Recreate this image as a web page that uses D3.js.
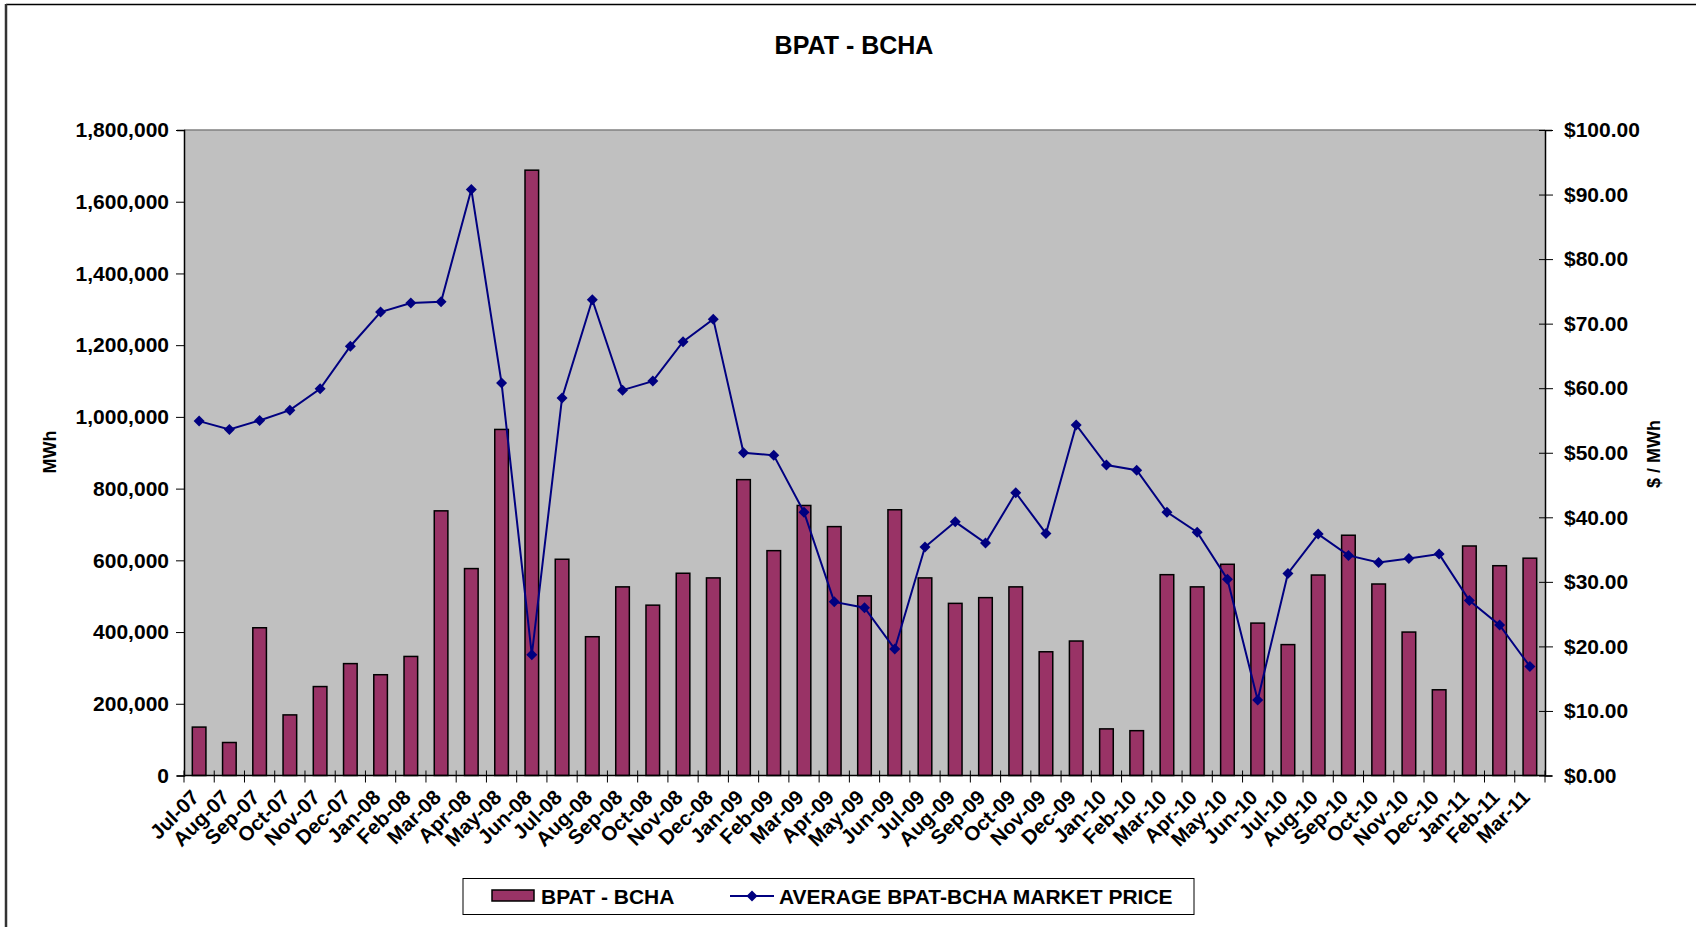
<!DOCTYPE html>
<html>
<head>
<meta charset="utf-8">
<script src="https://cdn.jsdelivr.net/npm/d3@7"></script>
<style>
  html, body { margin: 0; padding: 0; background: #fff; }
  svg { display: block; }
  text { font-family: "Liberation Sans", Arial, sans-serif; font-weight: bold; fill: #000; }
</style>
</head>
<body>
<svg id="chart" width="1696" height="927"></svg>
<script>
const months = ["Jul-07","Aug-07","Sep-07","Oct-07","Nov-07","Dec-07","Jan-08","Feb-08","Mar-08","Apr-08","May-08","Jun-08",
  "Jul-08","Aug-08","Sep-08","Oct-08","Nov-08","Dec-08","Jan-09","Feb-09","Mar-09","Apr-09","May-09","Jun-09",
  "Jul-09","Aug-09","Sep-09","Oct-09","Nov-09","Dec-09","Jan-10","Feb-10","Mar-10","Apr-10","May-10","Jun-10",
  "Jul-10","Aug-10","Sep-10","Oct-10","Nov-10","Dec-10","Jan-11","Feb-11","Mar-11"];

const volume = [135000, 92000, 412000, 169000, 248000, 312000, 281000, 332000, 738000, 577000, 965000, 1688000,
  603000, 387000, 526000, 475000, 564000, 551000, 825000, 627000, 753000, 694000, 501000, 741000,
  551000, 480000, 496000, 526000, 345000, 375000, 130000, 125000, 560000, 526000, 589000, 425000,
  365000, 559000, 670000, 534000, 400000, 239000, 640000, 585000, 606000];

const price = [54.9, 53.6, 55.0, 56.6, 59.9, 66.5, 71.8, 73.2, 73.4, 90.8, 60.8, 18.7,
  58.5, 73.7, 59.7, 61.1, 67.2, 70.7, 50.0, 49.6, 40.8, 26.9, 26.0, 19.6,
  35.4, 39.3, 36.0, 43.8, 37.5, 54.3, 48.1, 47.3, 40.8, 37.7, 30.4, 11.7,
  31.3, 37.4, 34.1, 33.0, 33.6, 34.3, 27.1, 23.3, 16.9];

const leftTicks = [0, 200000, 400000, 600000, 800000, 1000000, 1200000, 1400000, 1600000, 1800000];
const rightTicks = [0, 10, 20, 30, 40, 50, 60, 70, 80, 90, 100];

const title = "BPAT - BCHA";
const leftTitle = "MWh";
const rightTitle = "$ / MWh";
const seriesNames = ["BPAT - BCHA", "AVERAGE BPAT-BCHA MARKET PRICE"];

const svg = d3.select("#chart");
const W = 1696, H = 927;
const plot = { left: 184, right: 1545, top: 130, bottom: 775.5 };

// outer frame (top and left)
svg.append("line").attr("x1", 6).attr("x2", W).attr("y1", 4.5).attr("y2", 4.5)
  .attr("stroke", "#000").attr("stroke-width", 1.5);
svg.append("line").attr("x1", 6).attr("x2", 6).attr("y1", 4).attr("y2", H)
  .attr("stroke", "#333").attr("stroke-width", 2.5);

const x = d3.scaleBand().domain(months).range([plot.left, plot.right]).paddingInner(0).paddingOuter(0);
const yL = d3.scaleLinear().domain([0, 1800000]).range([plot.bottom, plot.top]);
const yR = d3.scaleLinear().domain([0, 100]).range([plot.bottom, plot.top]);

// plot background
svg.append("rect").attr("x", plot.left).attr("y", plot.top)
  .attr("width", plot.right - plot.left).attr("height", plot.bottom - plot.top)
  .attr("fill", "#c0c0c0");
svg.append("line").attr("x1", plot.left).attr("x2", plot.right).attr("y1", plot.top).attr("y2", plot.top)
  .attr("stroke", "#808080").attr("stroke-width", 1.5);

// title
svg.append("text").attr("x", 854).attr("y", 54).attr("text-anchor", "middle")
  .style("font-size", "25px").text(title);

// bars
const barW = x.bandwidth() * 0.45;
svg.append("g").selectAll("rect").data(volume).join("rect")
  .attr("x", (d, i) => x(months[i]) + (x.bandwidth() - barW) / 2)
  .attr("y", d => yL(d))
  .attr("width", barW)
  .attr("height", d => yL(0) - yL(d))
  .attr("fill", "#993366")
  .attr("stroke", "#000")
  .attr("stroke-width", 1.5);

// line
const line = d3.line().x((d, i) => x(months[i]) + x.bandwidth() / 2).y(d => yR(d));
svg.append("path").datum(price).attr("d", line)
  .attr("fill", "none").attr("stroke", "#000080").attr("stroke-width", 2);
const diamond = "M0,-5.5L5.5,0L0,5.5L-5.5,0Z";
svg.append("g").selectAll("path").data(price).join("path")
  .attr("d", diamond)
  .attr("transform", (d, i) => `translate(${x(months[i]) + x.bandwidth() / 2},${yR(d)})`)
  .attr("fill", "#000080");

// axes
const gL = svg.append("g").attr("transform", `translate(${plot.left},0)`)
  .call(d3.axisLeft(yL).tickValues(leftTicks).tickFormat(d3.format(",")).tickSize(7).tickPadding(8));
const gR = svg.append("g").attr("transform", `translate(${plot.right},0)`)
  .call(d3.axisRight(yR).tickValues(rightTicks).tickFormat(d => "$" + d3.format(".2f")(d)).tickSize(7).tickPadding(12));
[gL, gR].forEach(g => {
  g.select(".domain").attr("stroke", "#000").attr("stroke-width", 1.5);
  g.selectAll(".tick line").attr("stroke", "#000").attr("stroke-width", 1);
  g.selectAll(".tick text").style("font-size", "21px").style("font-family", "'Liberation Sans', Arial, sans-serif").style("font-weight", "bold");
});
gL.selectAll(".tick line").attr("x1", 0).attr("x2", -8);
gR.selectAll(".tick line").attr("x1", -6).attr("x2", 8);

// bottom axis
svg.append("line").attr("x1", plot.left).attr("x2", plot.right).attr("y1", plot.bottom).attr("y2", plot.bottom)
  .attr("stroke", "#000").attr("stroke-width", 1.5);
const bounds = months.map(m => x(m)).concat([plot.right]);
svg.append("g").selectAll("line").data(bounds).join("line")
  .attr("x1", d => d).attr("x2", d => d)
  .attr("y1", plot.bottom - 5).attr("y2", plot.bottom + 7)
  .attr("stroke", "#000").attr("stroke-width", 1);

svg.append("g").selectAll("text").data(months).join("text")
  .attr("transform", d => `translate(${x(d) + x.bandwidth() / 2 - 9},${plot.bottom + 13}) rotate(-45)`)
  .attr("text-anchor", "end")
  .attr("dy", "0.7em")
  .style("font-size", "20.5px")
  .text(d => d);

// axis titles
svg.append("text").attr("transform", "translate(56,452) rotate(-90)")
  .attr("text-anchor", "middle").style("font-size", "18px").text(leftTitle);
svg.append("text").attr("transform", "translate(1660,454) rotate(-90)")
  .attr("text-anchor", "middle").style("font-size", "18px").text(rightTitle);

// legend
const lg = svg.append("g");
lg.append("rect").attr("x", 463).attr("y", 878.5).attr("width", 731).attr("height", 36)
  .attr("fill", "#fff").attr("stroke", "#000").attr("stroke-width", 1);
lg.append("rect").attr("x", 492).attr("y", 890).attr("width", 42).attr("height", 11)
  .attr("fill", "#993366").attr("stroke", "#000").attr("stroke-width", 1.5);
lg.append("text").attr("x", 541).attr("y", 903.5).style("font-size", "21px").text(seriesNames[0]);
lg.append("line").attr("x1", 730).attr("x2", 774).attr("y1", 896).attr("y2", 896)
  .attr("stroke", "#000080").attr("stroke-width", 2);
lg.append("path").attr("d", diamond).attr("transform", "translate(752,896)").attr("fill", "#000080");
lg.append("text").attr("x", 779).attr("y", 903.5).style("font-size", "21px").text(seriesNames[1]);
</script>
</body>
</html>
